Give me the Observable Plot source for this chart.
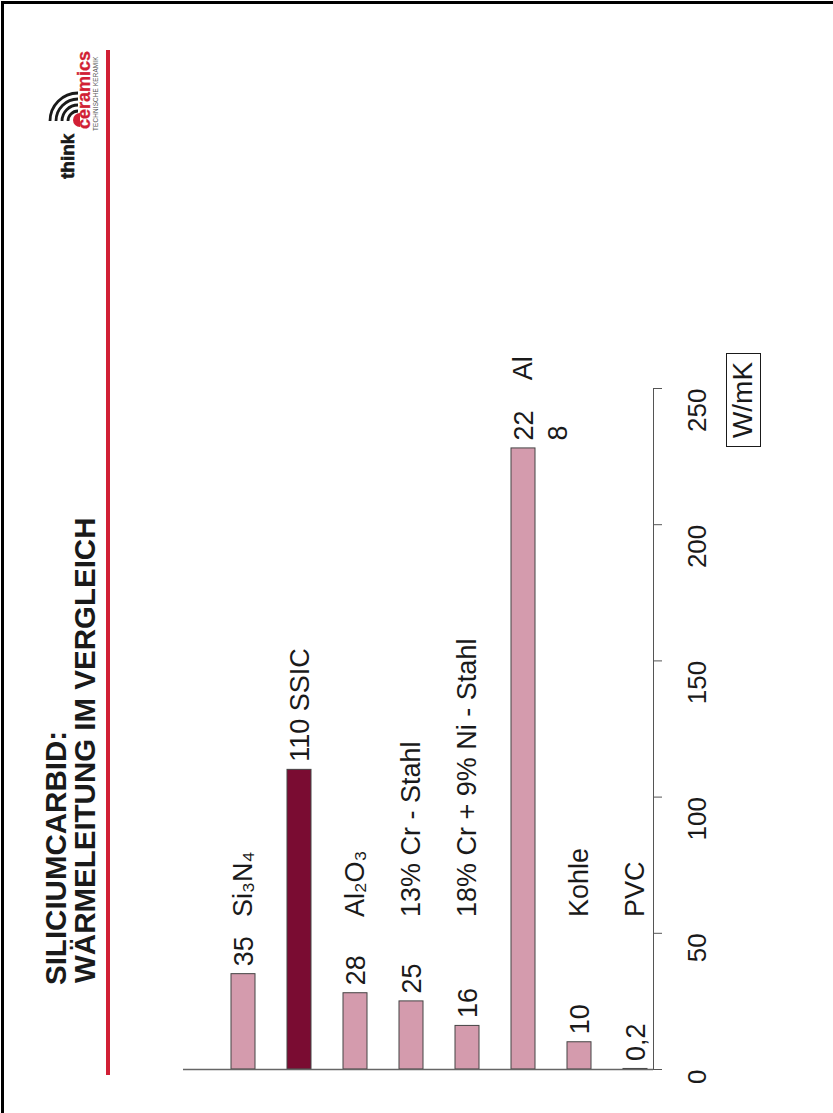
<!DOCTYPE html>
<html><head><meta charset="utf-8">
<script src="https://cdn.jsdelivr.net/npm/d3@7"></script>
<script src="https://cdn.jsdelivr.net/npm/@observablehq/plot@0.6"></script>
<style>
html,body{margin:0;padding:0;background:#fff;}
#page{position:relative;width:833px;height:1113px;overflow:hidden;font-family:"Liberation Sans",Arial,sans-serif;color:#1a1a1a;}
.rot{position:absolute;transform-origin:0 0;transform:rotate(-90deg);white-space:nowrap;line-height:1;}
#chart{position:absolute;left:0;top:0;}
</style></head><body>
<div id="page">
  <div style="position:absolute;left:1px;top:1px;width:900px;height:1200px;border-left:3px solid #000;border-top:3px solid #000;"></div>
  <div id="chart"></div>
  <svg style="position:absolute;left:0;top:0" width="140" height="200">
    <g fill="none" stroke="#1a1a1a" stroke-width="2.8">
      <path d="M 68 121 A 10 10 0 0 1 78 111"/>
      <path d="M 62 121 A 16 16 0 0 1 78 105"/>
      <path d="M 56 121 A 22 22 0 0 1 78 99"/>
      <path d="M 50 121 A 28 28 0 0 1 78 93"/>
    </g>
    <path d="M 80 113 A 7 7 0 0 0 80 127 Z" fill="#d11f35"/>
  </svg>
  <div class="rot" style="left:58px;top:179px;font-size:19px;font-weight:bold;-webkit-text-stroke:0.6px #1a1a1a;">think</div>
  <div class="rot" style="left:75px;top:129px;font-size:18px;font-weight:bold;color:#d11f35;-webkit-text-stroke:0.3px #d11f35;">ceramics</div>
  <div class="rot" style="left:93px;top:131px;font-size:6.3px;color:#555;letter-spacing:0.2px;">TECHNISCHE KERAMIK</div>
  <div style="position:absolute;left:106px;top:50px;width:4px;height:1025px;background:#d11f35;"></div>
  <div class="rot" style="left:41px;top:985px;font-size:29.5px;font-weight:bold;">SILICIUMCARBID:</div>
  <div class="rot" style="left:70px;top:983px;font-size:29.5px;font-weight:bold;">WÄRMELEITUNG IM VERGLEICH</div>
  <div id="unit" class="rot" style="left:726px;top:447px;width:94px;height:35px;box-sizing:border-box;border:1.5px solid #1a1a1a;font-size:28px;line-height:32px;text-align:center;"></div>
</div>
<script>
const materials = ["Si3N4", "SSIC", "Al2O3", "13% Cr - Stahl", "18% Cr + 9% Ni - Stahl", "Al", "Kohle", "PVC"];
const conductivity = [35, 110, 28, 25, 16, 228, 10, 0.2];
const valueLabels = ["35", "110 SSIC", "28", "25", "16", "22\n8", "10", "0,2"];
const nameLabels = ["Si₃N₄", "", "Al₂O₃", "13% Cr - Stahl", "18% Cr + 9% Ni - Stahl", "Al", "Kohle", "PVC"];
const highlight = "SSIC";
const yTicks = [0, 50, 100, 150, 200, 250];
const unitLabel = "W/mK";

document.getElementById("unit").textContent = unitLabel;

const data = materials.map((m, i) => ({material: m, value: conductivity[i], vlabel: valueLabels[i], name: nameLabels[i]}));
const font = '"Liberation Sans", Arial, sans-serif';

const chart = Plot.plot({
  width: 833,
  height: 1113,
  marginLeft: 183,
  marginRight: 180,
  marginTop: 388,
  marginBottom: 44,
  style: {fontFamily: font, background: "transparent", color: "#1a1a1a", overflow: "visible"},
  x: {domain: materials, range: [211, 666], paddingInner: 0.578, paddingOuter: 0.289, axis: null},
  y: {domain: [0, 250], axis: null},
  marks: [
    Plot.barY(data, {x: "material", y: "value", fill: d => d.material === highlight ? "#7a0c32" : "#d49bad", stroke: "#444", strokeWidth: 1}),
    Plot.ruleY([0], {stroke: "#666", strokeWidth: 1.5}),
    Plot.axisY({anchor: "right", ticks: yTicks, tickSize: 8, tickFormat: () => "", stroke: "#555", label: null}),
    Plot.frame({anchor: "right", stroke: "#555"}),
    Plot.text(yTicks, {y: d => d, text: d => String(d), frameAnchor: "right", dx: 44, rotate: -90, fontSize: 26, fill: "#1a1a1a"}),
    Plot.text(data, {x: "material", y: "value", text: "vlabel", rotate: -90, textAnchor: "start", lineAnchor: "top", lineHeight: 1.25, dx: -14, dy: -8, fontSize: 27, fill: "#1a1a1a"}),
    Plot.text(data.filter(d => d.name), {x: "material", y: d => d.value > 100 ? d.value + 25 : 56, text: "name", rotate: -90, textAnchor: "start", fontSize: 27, fill: "#1a1a1a"})
  ]
});
document.getElementById("chart").appendChild(chart);
</script>
</body></html>
